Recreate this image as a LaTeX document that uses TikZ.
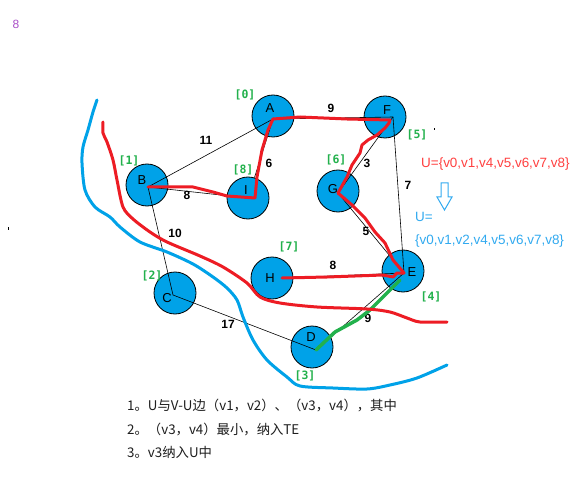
\documentclass[tikz,border=0pt]{standalone}
\usepackage{fontspec}
\setmainfont{Liberation Sans}
\newfontfamily\cjk{Noto Sans CJK SC}
\newfontfamily\monof{DejaVu Sans Mono}
\definecolor{pblue}{RGB}{0,162,232}
\definecolor{pred}{RGB}{237,28,36}
\definecolor{pgreen}{RGB}{34,177,76}
\definecolor{tred}{RGB}{255,64,64}
\definecolor{tblue}{RGB}{50,170,240}
\definecolor{ppurple}{RGB}{170,80,200}
\definecolor{tdark}{RGB}{30,30,30}
\tikzset{
  vert/.style={circle, draw=black, line width=0.8bp, fill=pblue, minimum size=42bp, inner sep=0pt},
  vlab/.style={font=\fontsize{13}{13}\selectfont, inner sep=0pt},
  idx/.style={text=pgreen, font=\monof\bfseries\fontsize{11.5}{11.5}\selectfont, inner sep=0pt},
  wt/.style={font=\bfseries\fontsize{12}{12}\selectfont, inner sep=0pt},
  gedge/.style={line width=0.6bp, black},
  mst/.style={pred, line width=3bp, line join=round, line cap=round},
  newedge/.style={pgreen, line width=3.5bp, line join=round, line cap=round},
  redcut/.style={pred, line width=3bp, line cap=round},
  bluecut/.style={pblue, line width=3bp, line cap=round},
  utext/.style={font=\fontsize{13.5}{13.5}\selectfont, inner sep=0pt, anchor=west},
  note/.style={font=\cjk\fontsize{13.4}{13.4}\selectfont, text=tdark, inner sep=0pt, anchor=west}
}
\begin{document}
\begin{tikzpicture}[x=1bp,y=-1bp]
\useasboundingbox (0,0) rectangle (586,480);
\fill[white] (0,0) rectangle (586,480);

% vertices
\node[vert] (A) at (273,116) {};
\node[vert] (B) at (147,185) {};
\node[vert] (I) at (248,198) {};
\node[vert] (F) at (385,117) {};
\node[vert] (G) at (338,191) {};
\node[vert] (E) at (403,271) {};
\node[vert] (H) at (272,278) {};
\node[vert] (C) at (175,293) {};
\node[vert] (D) at (312,347) {};

\node[vlab] (lA) at (270,108) {A};
\node[vlab] (lB) at (142,180) {B};
\node[vlab] (lI) at (246,190) {I};
\node[vlab] (lF) at (387,110) {F};
\node[vlab] (lG) at (333,189) {G};
\node[vlab] (lE) at (412,272) {E};
\node[vlab] (lH) at (270,278) {H};
\node[vlab] (lC) at (167,298) {C};
\node[vlab] (lD) at (311,337) {D};

% edge end points
\coordinate (pA) at (273,119);
\coordinate (pB) at (148,187);
\coordinate (pF) at (393,117);
\coordinate (pG) at (338,193);
\coordinate (pE) at (404,273);
\coordinate (pH) at (282,278);
\coordinate (pC) at (173,295);
\coordinate (pD) at (316,350);

% graph edges
\draw[gedge] (pA) -- (pF);
\draw[gedge] (pA) -- (pB);
\draw[gedge] (pA) -- (I);
\draw[gedge] (pB) -- (I);
\draw[gedge] (pB) -- (pC);
\draw[gedge] (pC) -- (pD);
\draw[gedge] (pD) -- (pE);
\draw[gedge] (pH) -- (pE);
\draw[gedge] (pG) -- (pE);
\draw[gedge] (pF) -- (pE);
\draw[gedge] (pF) -- (pG);

% weights
\node[wt] (w1) at (331,108) {9};
\node[wt] (w2) at (206,140) {11};
\node[wt] (w3) at (269,163) {6};
\node[wt] (w4) at (187,195) {8};
\node[wt] (w5) at (367,163) {3};
\node[wt] (w6) at (408,185) {7};
\node[wt] (w7) at (366,231) {5};
\node[wt] (w8) at (175,233) {10};
\node[wt] (w9) at (333,265) {8};
\node[wt] (w10) at (228,324) {17};
\node[wt] (w11) at (368,318) {9};

% indices
\node[idx] (iA) at (245,95) {[0]};
\node[idx] (iB) at (129,161) {[1]};
\node[idx] (iI) at (243,170) {[8]};
\node[idx] (iF) at (417,135) {[5]};
\node[idx] (iG) at (336,160) {[6]};
\node[idx] (iH) at (289,247) {[7]};
\node[idx] (iC) at (152,276) {[2]};
\node[idx] (iE) at (431,297) {[4]};
\node[idx] (iD) at (305,376) {[3]};

% tree edges (red)
\draw[mst] (pA) -- (300,117) -- (347,119) -- (390,120) -- (389,123) -- (385,128) -- (377,135) -- (368,140) -- (362,145) -- (360,153) -- (352,165) -- (347,177) -- (pG);
\draw[mst] (pG) -- (352,205) -- (365,218) -- (375,232) -- (385,243) -- (393,260) -- (pE);
\draw[mst] (pE) -- (397,273) -- (393,277) -- (383,275) -- (327,277) -- (pH);
\draw[mst] (pA) -- (268,130) -- (262,150) -- (257,177) -- (255,198) -- (227,196) -- (213,192) -- (193,187) -- (170,187) -- (pB);

% new edge (green)
\draw[newedge] (pD) -- (335,332) -- (357,320) -- (370,310) -- (385,295) -- (400,280);

% cut curves
\draw[redcut] plot[smooth, tension=0.5] coordinates {(103,122) (103,133) (107,142) (113,160) (117,180) (123,207) (133,219) (150,232) (167,242) (200,256) (223,267) (247,283) (260,297) (280,303) (317,307) (367,309) (390,312) (407,318) (420,322) (447,322)};
\draw[bluecut] plot[smooth, tension=0.5] coordinates {(97,100) (93,112) (88,130) (83,147) (82,163) (85,190) (95,207) (110,217) (120,227) (140,242) (167,252) (193,264) (213,277) (227,288) (237,300) (243,317) (253,340) (267,360) (287,377) (300,386) (333,388) (367,389) (390,385) (417,378) (447,365)};

% texts
\node[text=ppurple, font=\fontsize{12}{12}\selectfont, inner sep=0pt] (n8) at (16,24) {8};
\node[utext, text=tred] (u1) at (421,164) {U=\{v0,v1,v4,v5,v6,v7,v8\}};
\draw[tblue, line width=1bp, line join=miter] (441,183) -- (448,183) -- (448,197) -- (452,197) -- (444.5,210) -- (437,197) -- (441,197) -- cycle;
\node[utext, text=tblue] (u2) at (415,217) {U=};
\node[utext, text=tblue] (u3) at (415,241) {\{v0,v1,v2,v4,v5,v6,v7,v8\}};

\node[note] (t1) at (127,405) {1。U与V-U边（v1，v2）、（v3，v4），其中};
\node[note] (t2) at (127,429) {2。（v3，v4）最小，纳入TE};
\node[note] (t3) at (127,452) {3。v3纳入U中};

% stray marks
\fill[black] (7.5,227) rectangle (8.7,229.5);
\fill[black] (433.5,128) rectangle (434.7,130.5);
\end{tikzpicture}
\end{document}
